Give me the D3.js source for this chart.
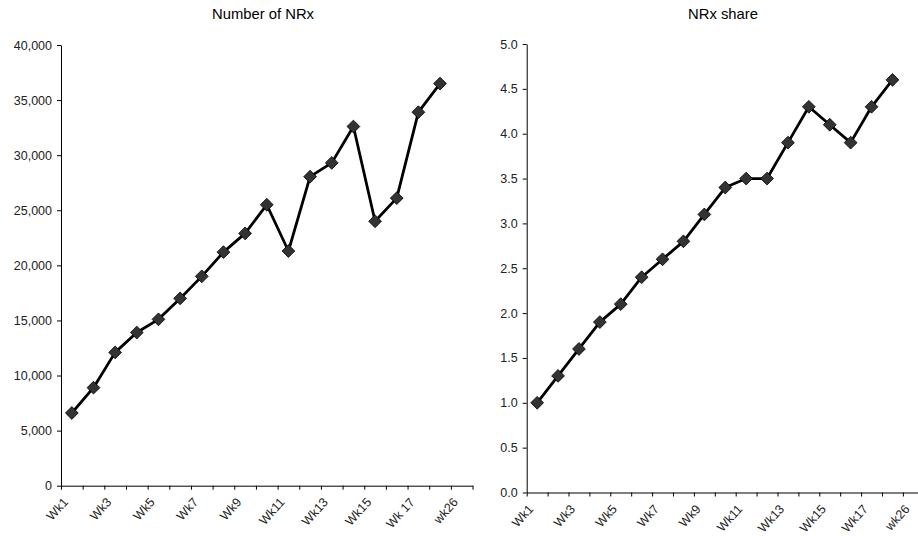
<!DOCTYPE html>
<html>
<head>
<meta charset="utf-8">
<script src="https://cdn.jsdelivr.net/npm/d3@7/dist/d3.min.js"></script>
<style>
  html, body { margin: 0; padding: 0; background: #fff; }
  svg { display: block; font-family: Arial, "Liberation Sans", sans-serif; }
  .tick text { fill: #222; font-size: 12.5px; }
  .domain, .tick line { stroke: #000; }
</style>
</head>
<body>
<svg id="chart" width="918" height="536"></svg>
<script>
// Weekly categories (one trailing week has no reading yet)
const weeksCount = ["Wk1","Wk2","Wk3","Wk4","Wk5","Wk6","Wk7","Wk8","Wk9","Wk10",
                    "Wk11","Wk12","Wk13","Wk14","Wk15","Wk16","Wk 17","Wk18","wk26"];
const weeksShare = ["Wk1","Wk2","Wk3","Wk4","Wk5","Wk6","Wk7","Wk8","Wk9","Wk10",
                    "Wk11","Wk12","Wk13","Wk14","Wk15","Wk16","Wk17","Wk18","wk26"];

// Number of new prescriptions per week
const nrxCount = [6600, 8900, 12100, 13900, 15100, 17000, 19000, 21200, 22900, 25500,
                  21300, 28050, 29300, 32600, 24000, 26100, 33900, 36500, null];

// New-prescription market share (%)
const nrxShare = [1.0, 1.3, 1.6, 1.9, 2.1, 2.4, 2.6, 2.8, 3.1, 3.4,
                  3.5, 3.5, 3.9, 4.3, 4.1, 3.9, 4.3, 4.6, null];

const countTicks = [0, 5000, 10000, 15000, 20000, 25000, 30000, 35000, 40000];
const shareTicks = [0, 0.5, 1.0, 1.5, 2.0, 2.5, 3.0, 3.5, 4.0, 4.5, 5.0];

const svg = d3.select("#chart");

function drawPanel(cfg) {
  const n = cfg.categories.length;
  const g = svg.append("g");

  // category index -> pixel; integer positions are the boundaries between weeks
  const x = d3.scaleLinear().domain([0, n]).range([cfg.left, cfg.left + n * cfg.band]);
  const y = d3.scaleLinear().domain(cfg.yDomain).range([cfg.bottom, cfg.top]);

  // title
  g.append("text")
    .attr("x", cfg.titleX).attr("y", 19)
    .attr("text-anchor", "middle")
    .attr("font-size", 14.8).attr("fill", "#000")
    .text(cfg.title);

  // y axis
  g.append("g")
    .attr("transform", `translate(${cfg.left},0)`)
    .call(d3.axisLeft(y).tickValues(cfg.yTicks).tickFormat(cfg.yFormat)
      .tickSize(4).tickSizeOuter(0).tickPadding(5));

  // x axis: tick marks between categories
  g.append("g")
    .attr("transform", `translate(0,${cfg.bottom})`)
    .call(d3.axisBottom(x).tickValues(d3.range(n + 1)).tickFormat("")
      .tickSize(4).tickSizeOuter(0));

  // week labels on every other category, rotated
  const labelIdx = d3.range(0, n, 2);
  g.append("g").selectAll("text")
    .data(labelIdx)
    .join("text")
    .attr("transform", i => `translate(${x(i + 0.5) - 3},${cfg.bottom + 17}) rotate(-48)`)
    .attr("text-anchor", "end")
    .attr("font-size", 12.5).attr("fill", "#222")
    .text(i => cfg.categories[i]);

  const pts = cfg.values
    .map((v, i) => ({ i, v }))
    .filter(d => d.v != null);

  // series line
  g.append("path")
    .datum(pts)
    .attr("fill", "none")
    .attr("stroke", "#000")
    .attr("stroke-width", 2.8)
    .attr("stroke-linejoin", "round")
    .attr("d", d3.line().x(d => x(d.i + 0.5)).y(d => y(d.v)));

  // diamond markers
  const r = 6.4;
  g.append("g").selectAll("path")
    .data(pts)
    .join("path")
    .attr("d", `M0,${-r}L${r},0L0,${r}L${-r},0Z`)
    .attr("transform", d => `translate(${x(d.i + 0.5)},${y(d.v)})`)
    .attr("fill", "#333")
    .attr("stroke", "#000")
    .attr("stroke-width", 0.8);
}

drawPanel({
  title: "Number of NRx", titleX: 263,
  categories: weeksCount, values: nrxCount,
  left: 61, band: 21.66, top: 45, bottom: 485.7,
  yDomain: [0, 40000], yTicks: countTicks, yFormat: d3.format(",")
});

drawPanel({
  title: "NRx share", titleX: 723,
  categories: weeksShare, values: nrxShare,
  left: 526.7, band: 20.9, top: 44, bottom: 492.5,
  yDomain: [0, 5], yTicks: shareTicks, yFormat: d3.format(".1f")
});
</script>
</body>
</html>
